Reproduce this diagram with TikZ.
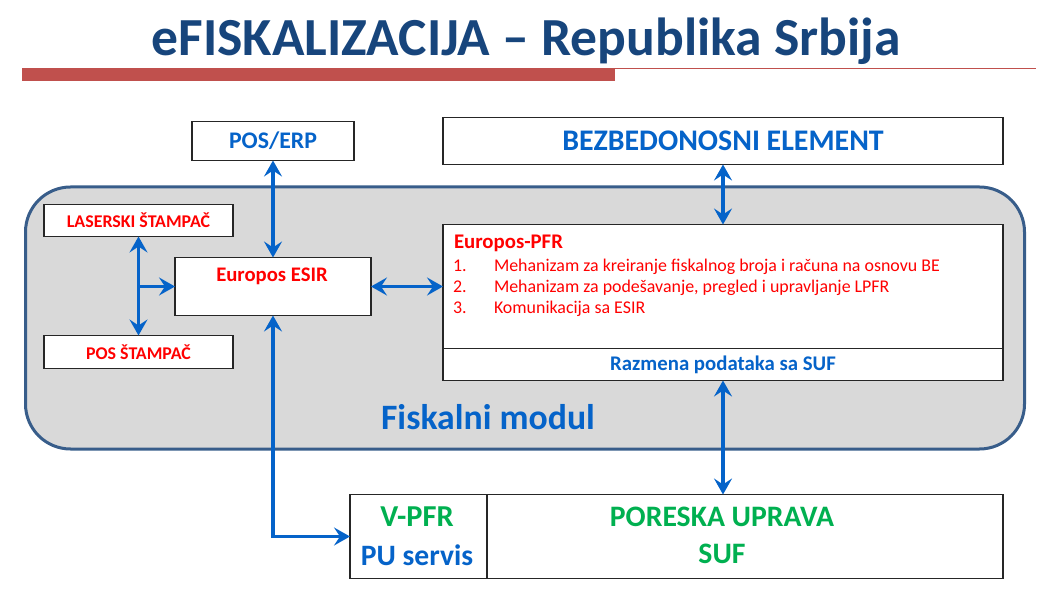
\documentclass[tikz,border=0pt]{standalone}
\usepackage{fontspec}
\setmainfont{Carlito}
\newfontfamily\numfont[RawFeature={+lnum,+tnum,-onum}]{Carlito}
\usetikzlibrary{arrows.meta}
\definecolor{titleblue}{HTML}{17457C}
\definecolor{barred}{HTML}{C0504D}
\definecolor{modfill}{HTML}{D9D9D9}
\definecolor{modline}{HTML}{385D8A}
\definecolor{linkblue}{HTML}{0563C9}
\definecolor{txtred}{HTML}{FF0000}
\definecolor{txtgreen}{HTML}{00B050}
\tikzset{
  px/.style={x=1pt,y=-1pt},
  boxnode/.style={draw=black!85,line width=1.2pt,fill=white,inner sep=0pt,outer sep=0pt,anchor=north west},
  link/.style={draw=linkblue,line width=3.2pt,{Stealth[length=16pt,width=18pt,inset=6pt]}-{Stealth[length=16pt,width=18pt,inset=6pt]}},
  linkend/.style={draw=linkblue,line width=3.2pt,-{Stealth[length=16pt,width=18pt,inset=6pt]}},
  lbl/.style={inner sep=0pt,outer sep=0pt,font=\bfseries},
  item/.style={inner sep=0pt,outer sep=0pt,anchor=west,text=txtred,font=\fontsize{17.9}{20}\selectfont},
  itemnum/.style={item,font=\numfont\fontsize{17.9}{20}\selectfont}
}
\newcommand{\bx}[6]{\node[boxnode,minimum width=#4pt,minimum height=#5pt] (#1) at (#2,#3) {#6};}
\begin{document}
\begin{tikzpicture}[px]
\useasboundingbox (0,0) rectangle (1057,609);
% title and rule
\node[lbl,text=titleblue,font=\bfseries\fontsize{53.6}{60}\selectfont] (title) at (526,41) {eFISKALIZACIJA – Republika Srbija};
\fill[barred] (22,68) rectangle (615,81);
\draw[barred,line width=1pt] (615,68.5) -- (1036,68.5);
% module
\node[draw=modline,line width=3pt,fill=modfill,rounded corners=45pt,inner sep=0pt,outer sep=0pt,minimum width=999pt,minimum height=262pt,anchor=north west] (modul) at (25.5,187) {};
\node[lbl,text=linkblue,font=\bfseries\fontsize{35.7}{40}\selectfont] (modtxt) at (488,417) {Fiskalni modul};
% boxes
\bx{poserp}{192}{121.5}{162}{39}{\bfseries\color{linkblue}\fontsize{23.8}{26}\selectfont POS/ERP}
\bx{be}{443}{117.5}{560}{47}{\bfseries\color{linkblue}\fontsize{29.9}{32}\selectfont BEZBEDONOSNI ELEMENT}
\bx{laser}{44}{204.5}{189}{32}{\bfseries\color{txtred}\fontsize{17.9}{20}\selectfont LASERSKI ŠTAMPAČ}
\bx{posst}{44}{335.5}{189}{33}{\bfseries\color{txtred}\fontsize{17.9}{20}\selectfont POS ŠTAMPAČ}
\bx{esir}{175}{257.5}{196}{58}{}
\node[lbl,text=txtred,font=\bfseries\fontsize{20.7}{24}\selectfont] (esirtxt) at (272,276) {Europos ESIR};
\bx{pfr}{443}{224.5}{560}{124}{}
\bx{raz}{443}{348.5}{560}{32}{\bfseries\color{linkblue}\fontsize{20.8}{24}\selectfont Razmena podataka sa SUF}
\node[lbl,anchor=west,text=txtred,font=\bfseries\fontsize{20.8}{24}\selectfont] (pfrtxt) at (454,243) {Europos-PFR};
\node[itemnum,anchor=base west] (n1) at (453,272) {1.};
\node[item,anchor=base west] (t1) at (494,272) {Mehanizam za kreiranje fiskalnog broja i računa na osnovu BE};
\node[itemnum,anchor=base west] (n2) at (453,293) {2.};
\node[item,anchor=base west] (t2) at (494,293) {Mehanizam za podešavanje, pregled i upravljanje LPFR};
\node[itemnum,anchor=base west] (n3) at (453,314) {3.};
\node[item,anchor=base west] (t3) at (494,314) {Komunikacija sa ESIR};
\bx{vpfr}{350}{494.5}{137}{84}{}
\bx{suf}{487}{494.5}{516}{84}{}
\node[lbl,text=txtgreen,font=\bfseries\fontsize{30.4}{33}\selectfont] (vt1) at (417,517) {V-PFR};
\node[lbl,text=linkblue,font=\bfseries\fontsize{29.6}{33}\selectfont] (vt2) at (417,555) {PU servis};
\node[lbl,text=txtgreen,font=\bfseries\fontsize{29.7}{33}\selectfont] (st1) at (722,517) {PORESKA UPRAVA};
\node[lbl,text=txtgreen,font=\bfseries\fontsize{29.7}{33}\selectfont] (st2) at (722,554) {SUF};
% connectors
\draw[link] (poserp.south) -- (esir.north);
\draw[link] (be.south) -- (pfr.north);
\draw[link] (laser.south) -- (posst.north);
\draw[linkend] (laser.south |- esir.west) -- (esir.west);
\draw[link] (esir.east) -- (esir.east -| pfr.west);
\draw[link] (esir.south) |- (vpfr.west);
\draw[link] (raz.south) -- (raz.south |- suf.north);
\end{tikzpicture}
\end{document}
